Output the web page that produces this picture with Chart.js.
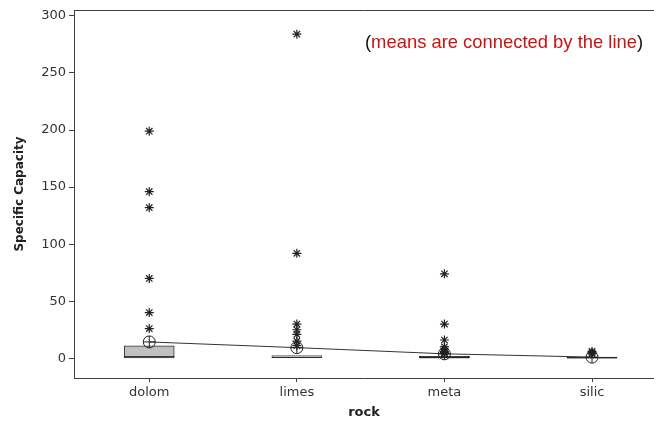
<!DOCTYPE html>
<html>
<head>
<meta charset="utf-8">
<script src="https://cdn.jsdelivr.net/npm/chart.js@4"></script>
<style>
  body { margin: 0; background: #fff; }
  canvas { display: block; }
</style>
</head>
<body>
<canvas id="chart" width="654" height="422"></canvas>
<script>
// ========== Data ==========
const rocks = ["dolom", "limes", "meta", "silic"];
const q1 = [0.3, 0, 0, 0];
const q3 = [10.8, 2.3, 1.8, 1.0];
const medians = [1.4, 0.8, 0.5, 0.3];
const means = [14.3, 9.3, 3.9, 1];
const outliers = [
  [199, 146, 132, 70, 40, 26],
  [284, 92, 30, 25, 21, 15, 11],
  [74, 30, 16, 10, 8, 6, 5, 4],
  [6, 5, 4],
];
const boxFill = ["#c0c0c0", "#e6e6e6", "#111111", "#111111"];
const boxEdge = ["#333333", "#555555", "#111111", "#111111"];
const yTicks = [0, 50, 100, 150, 200, 250, 300];

const axisColor = "#404040";
const tickFont = { family: "DejaVu Sans", size: 13 };

// no auto padding from the scales, fixed plot box
function noPad(s) {
  s.paddingLeft = 0;
  s.paddingRight = 0;
  s.paddingTop = 0;
  s.paddingBottom = 0;
}

// note text drawn on top of the plot
const notePlugin = {
  id: "note",
  afterDraw(chart) {
    const ctx = chart.ctx;
    ctx.save();
    ctx.font = "18.4px 'Liberation Sans', Arial, sans-serif";
    ctx.textBaseline = "alphabetic";
    let x = 365;
    const y = 48;
    const parts = [
      ["(", "#111"],
      ["means are connected by the line", "#cc1111"],
      [")", "#111"],
    ];
    parts.forEach(([t, c]) => {
      ctx.fillStyle = c;
      ctx.fillText(t, x, y);
      x += ctx.measureText(t).width;
    });
    ctx.restore();
  },
};

const outlierPoints = [];
outliers.forEach((list, i) => {
  list.forEach((v) => outlierPoints.push({ x: i + 1, y: v }));
});

new Chart(document.getElementById("chart").getContext("2d"), {
  type: "bar",
  data: {
    datasets: [
      {
        type: "line",
        label: "outliers",
        data: outlierPoints,
        showLine: false,
        pointStyle: "star",
        pointRadius: 4.5,
        borderColor: "#222",
        borderWidth: 1.2,
        order: 0,
      },
      {
        type: "line",
        label: "mean circle",
        data: means.map((v, i) => ({ x: i + 1, y: v })),
        showLine: false,
        pointStyle: "circle",
        pointRadius: 6,
        backgroundColor: "rgba(0,0,0,0)",
        borderColor: "#222",
        borderWidth: 1,
        order: 1,
      },
      {
        type: "line",
        label: "mean cross",
        data: means.map((v, i) => ({ x: i + 1, y: v })),
        showLine: false,
        pointStyle: "cross",
        pointRadius: 6,
        borderColor: "#222",
        borderWidth: 1,
        order: 2,
      },
      {
        type: "line",
        label: "mean line",
        data: means.map((v, i) => ({ x: i + 1, y: v })),
        pointRadius: 0,
        borderColor: "#333",
        borderWidth: 1,
        tension: 0,
        order: 3,
      },
      {
        type: "line",
        label: "median",
        data: medians.map((v, i) => ({ x: i + 1, y: v })),
        showLine: false,
        pointStyle: "line",
        pointRadius: 25,
        borderColor: "#222",
        borderWidth: 1,
        order: 4,
      },
      {
        type: "bar",
        label: "box",
        data: rocks.map((r, i) => ({ x: i + 1, y: [q1[i], q3[i]] })),
        backgroundColor: boxFill,
        borderColor: boxEdge,
        borderWidth: 1,
        borderSkipped: false,
        barThickness: 50,
        order: 5,
      },
    ],
  },
  options: {
    responsive: false,
    animation: false,
    devicePixelRatio: 1,
    layout: {
      autoPadding: false,
      padding: { top: 10, right: 0, left: 0, bottom: 0 },
    },
    plugins: {
      legend: { display: false },
      tooltip: { enabled: false },
    },
    scales: {
      x: {
        type: "linear",
        position: "bottom",
        offset: false,
        min: 0.49,
        max: 4.42,
        afterBuildTicks: (s) => {
          s.ticks = rocks.map((r, i) => ({ value: i + 1 }));
        },
        afterFit: (s) => {
          s.height = 44;
          noPad(s);
        },
        ticks: {
          callback: (v) => rocks[v - 1],
          font: tickFont,
          color: "#333",
          padding: 3,
          maxRotation: 0,
        },
        grid: {
          offset: false,
          drawOnChartArea: false,
          drawTicks: true,
          tickLength: 4,
          color: axisColor,
        },
        border: { display: true, color: axisColor, width: 1 },
        title: {
          display: true,
          text: "rock",
          font: { family: "DejaVu Sans", size: 13, weight: "bold" },
          color: "#222",
          padding: { top: 0, bottom: 2 },
        },
      },
      x2: {
        type: "linear",
        position: "top",
        display: true,
        offset: false,
        afterFit: (s) => {
          s.height = 0;
          noPad(s);
        },
        ticks: { display: false },
        grid: { display: false },
        border: { display: true, color: axisColor, width: 1 },
      },
      y: {
        type: "linear",
        min: -17.3,
        max: 305.2,
        afterBuildTicks: (s) => {
          s.ticks = yTicks.map((v) => ({ value: v }));
        },
        afterFit: (s) => {
          s.width = 74;
          noPad(s);
        },
        ticks: {
          font: tickFont,
          color: "#333",
          padding: 3,
        },
        grid: {
          drawOnChartArea: false,
          drawTicks: true,
          tickLength: 5,
          color: axisColor,
        },
        border: { display: true, color: axisColor, width: 1 },
        title: {
          display: true,
          text: "Specific Capacity",
          font: { family: "DejaVu Sans", size: 12, weight: "bold" },
          color: "#222",
          padding: { top: 13, bottom: 0 },
        },
      },
    },
  },
  plugins: [notePlugin],
});
</script>
</body>
</html>
